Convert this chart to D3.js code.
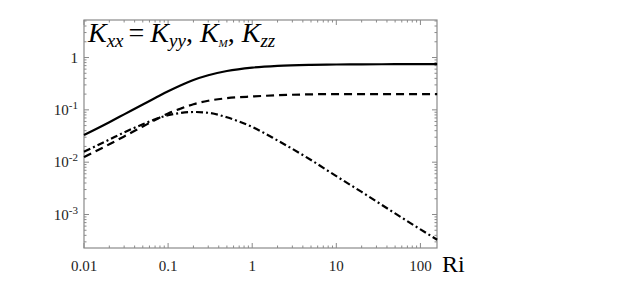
<!DOCTYPE html>
<html><head><meta charset="utf-8">
<script src="https://cdn.jsdelivr.net/npm/d3@7"></script>
<style>body{margin:0;background:#fff}svg{display:block}
text{font-family:"Liberation Serif","DejaVu Serif","Times New Roman",serif;}</style>
</head><body>
<svg id="c" width="643" height="283"></svg>
<script>
const riVals   = [0.01,0.02,0.03,0.05,0.07,0.1,0.14,0.2,0.3,0.5,1,2,5,10,20,50,100,158];
const kxx      = [0.033,0.058,0.082,0.127,0.168,0.226,0.292,0.372,0.458,0.552,0.642,0.695,0.726,0.735,0.74,0.745,0.745,0.745];
const km       = [0.0125,0.022,0.031,0.048,0.064,0.085,0.105,0.128,0.149,0.167,0.18,0.19,0.198,0.2,0.2,0.2,0.2,0.2];
const kzz      = [0.0158,0.027,0.037,0.053,0.066,0.079,0.087,0.091,0.088,0.072,0.047,0.026,0.011,0.0054,0.0027,0.00105,0.00052,0.00033];
const xTicks   = [0.01,0.1,1,10,100];
const xTickLbl = ["0.01","0.1","1","10","100"];
const yTicks   = [1,0.1,0.01,0.001];
const yTickExp = ["", "-1", "-2", "-3"];

const svg = d3.select("#c");
const L=84, R=437, T=20, B=248;
const x = d3.scaleLog().domain([0.01, Math.pow(10,2.197)]).range([L,R]);
const y = d3.scaleLog().domain([Math.pow(10,-3.64), Math.pow(10,0.717)]).range([B,T]);
const axCol = "#8a8a8a";

function minorList(d0,d1){const out=[];for(let e=Math.floor(Math.log10(d0));e<=Math.ceil(Math.log10(d1));e++){for(let m=1;m<10;m++){const v=m*Math.pow(10,e);if(v>=d0*0.999&&v<=d1*1.001)out.push({v,major:m===1});}}return out;}
const gx = svg.append("g");
minorList(...x.domain()).forEach(t=>{
  const px=x(t.v), len=t.major?5:2.5;
  gx.append("line").attr("x1",px).attr("x2",px).attr("y1",B).attr("y2",B-len).attr("stroke",axCol).attr("stroke-width",1);
  gx.append("line").attr("x1",px).attr("x2",px).attr("y1",T).attr("y2",T+len).attr("stroke",axCol).attr("stroke-width",1);
});
minorList(...y.domain()).forEach(t=>{
  const py=y(t.v), len=t.major?5:2.5;
  gx.append("line").attr("x1",L).attr("x2",L+len).attr("y1",py).attr("y2",py).attr("stroke",axCol).attr("stroke-width",1);
  gx.append("line").attr("x1",R).attr("x2",R-len).attr("y1",py).attr("y2",py).attr("stroke",axCol).attr("stroke-width",1);
});
svg.append("rect").attr("x",L).attr("y",T).attr("width",R-L).attr("height",B-T)
  .attr("fill","none").attr("stroke",axCol).attr("stroke-width",1.2);

xTicks.forEach((v,i)=>{
  svg.append("text").attr("x",x(v)).attr("y",271).attr("text-anchor","middle")
    .attr("font-size",15).attr("fill","#222").text(xTickLbl[i]);
});
yTicks.forEach((v,i)=>{
  const t = svg.append("text").attr("x",78).attr("y",y(v)+5).attr("text-anchor","end")
    .attr("font-size",15).attr("fill","#222");
  if(yTickExp[i]===""){ t.text("1"); }
  else { t.append("tspan").text("10"); t.append("tspan").attr("dy",-6).attr("font-size",11).text(yTickExp[i]); }
});

const line = d3.line().x(d=>x(d[0])).y(d=>y(d[1])).curve(d3.curveMonotoneX);
function draw(vals, dash){
  svg.append("path").datum(riVals.map((r,i)=>[r,vals[i]])).attr("d",line)
    .attr("fill","none").attr("stroke","#000").attr("stroke-width",2.2)
    .attr("stroke-dasharray",dash);
}
draw(kxx, null);
draw(km, "8,5");
draw(kzz, "7,3,2,3");

const tt = svg.append("text").attr("x",88).attr("y",42)
  .attr("font-size",28).attr("font-style","italic").attr("fill","#000");
tt.append("tspan").text("K");
tt.append("tspan").attr("dy",5).attr("font-size",19).text("xx");
tt.append("tspan").attr("dy",-5).attr("dx",5).attr("font-style","normal").text("=");
tt.append("tspan").attr("dx",6).text("K");
tt.append("tspan").attr("dy",5).attr("font-size",19).text("yy");
tt.append("tspan").attr("dy",-5).attr("font-style","normal").text(", ");
tt.append("tspan").text("K");
tt.append("tspan").attr("dy",5).attr("font-size",11).text("M");
tt.append("tspan").attr("dy",-5).attr("font-style","normal").text(", ");
tt.append("tspan").text("K");
tt.append("tspan").attr("dy",5).attr("font-size",19).text("zz");

svg.append("text").attr("x",442).attr("y",272).attr("font-size",24).attr("fill","#000").text("Ri");
</script>
</body></html>
